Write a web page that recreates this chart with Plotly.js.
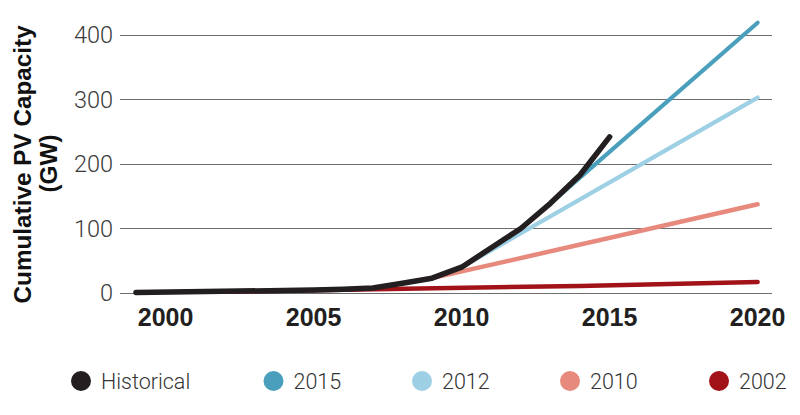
<!DOCTYPE html>
<html><head><meta charset="utf-8">
<script src="https://cdn.plot.ly/plotly-3.0.1.min.js"></script>
<style>
html,body{margin:0;padding:0;background:#fff;}
#chart{width:800px;height:415px;}
.scatterlayer .js-line{stroke-linecap:round !important;stroke-linejoin:round !important;}
</style></head><body><div id="chart"></div>
<script>
// ---- data ----
const histYears  = [1999,2000,2001,2002,2003,2004,2005,2006,2007,2008,2009,2010,2011,2012,2013,2014,2015];
const histValues = [0.9,1.2,1.6,2.1,2.8,3.6,4.5,5.8,7.8,15,23,40,70,100,139,183,242];
const p2015Years  = [2013,2020];
const p2015Values = [139,419];
const p2012Years  = [2010,2020];
const p2012Values = [40,303];
const p2010Years  = [2009,2020];
const p2010Values = [23,137.5];
const p2002Years  = [2002,2005,2008,2011,2014,2017,2020];
const p2002Values = [2.1,3.9,5.8,8.3,10.9,13.8,17];
const seriesNames  = ['Historical','2015','2012','2010','2002'];
const seriesColors = ['#231f20','#4a9fbd','#9dcfe5','#e78a7d','#a11318'];
const xTickVals = [2000,2005,2010,2015,2020];
const yTickVals = [0,100,200,300,400];
const yTitleLines = ['Cumulative PV Capacity','(GW)'];

const lineSets = [
  {x:p2002Years, y:p2002Values, i:4, w:4.5},
  {x:p2010Years, y:p2010Values, i:3, w:4.5},
  {x:p2012Years, y:p2012Values, i:2, w:4.2},
  {x:p2015Years, y:p2015Values, i:1, w:4.2},
  {x:histYears,  y:histValues,  i:0, w:5.5}
];
const traces = lineSets.map(s => ({
  x:s.x, y:s.y, type:'scatter', mode:'lines', name:seriesNames[s.i],
  line:{color:seriesColors[s.i], width:s.w}, showlegend:false, hoverinfo:'skip'
}));
const legendIds = ['legend','legend2','legend3','legend4','legend5'];
seriesNames.forEach((n,k) => traces.push({
  x:[null], y:[null], type:'scatter', mode:'markers', name:n, legend:legendIds[k],
  marker:{size:16, color:seriesColors[k], line:{color:seriesColors[k], width:4}}, showlegend:true
}));

const L=120, R=28, T=10, B=115, PW=800-L-R;
const circleCenters = [81,273.5,422,570,719];
const legendFont = {family:'Roboto,sans-serif', size:21.5, color:'#333', weight:300};
const layout = {
  width:800, height:415,
  margin:{l:L, r:R, t:T, b:B},
  paper_bgcolor:'#fff', plot_bgcolor:'#fff',
  xaxis:{range:[1998.459,2020.486], tickvals:xTickVals, ticktext:xTickVals.map(String),
    showgrid:false, zeroline:false, showline:false, ticks:'',
    tickfont:{family:'"Liberation Sans",Arial,sans-serif', size:25, color:'#231f20', weight:'bold'}},
  yaxis:{range:[-10.85,438.76], tickvals:yTickVals, showgrid:true, gridcolor:'#6e6e6e', gridwidth:1,
    zeroline:false, showline:false, ticks:'', ticklabelstandoff:6,
    tickfont:{family:'Roboto,sans-serif', size:23.5, color:'#3a3a3a', weight:300}},
  annotations: yTitleLines.map((t,k) => ({
    text:t, xref:'paper', yref:'paper', x:((k===0?21.5:47.5)-L)/PW, y:(300-164)/290,
    xanchor:'center', yanchor:'middle', showarrow:false, textangle:-90,
    font:{family:'"Liberation Sans",Arial,sans-serif', size:24.3, color:'#111', weight:'bold'}
  })),
  hovermode:false
};
legendIds.forEach((id,k) => {
  layout[id] = {orientation:'h', x:(circleCenters[k]-20-L)/PW, xanchor:'left',
    yref:'container', y:1-381/415, yanchor:'middle', font:legendFont, bgcolor:'rgba(0,0,0,0)'};
});
Plotly.newPlot('chart', traces, layout, {displayModeBar:false, staticPlot:true});
</script></body></html>
